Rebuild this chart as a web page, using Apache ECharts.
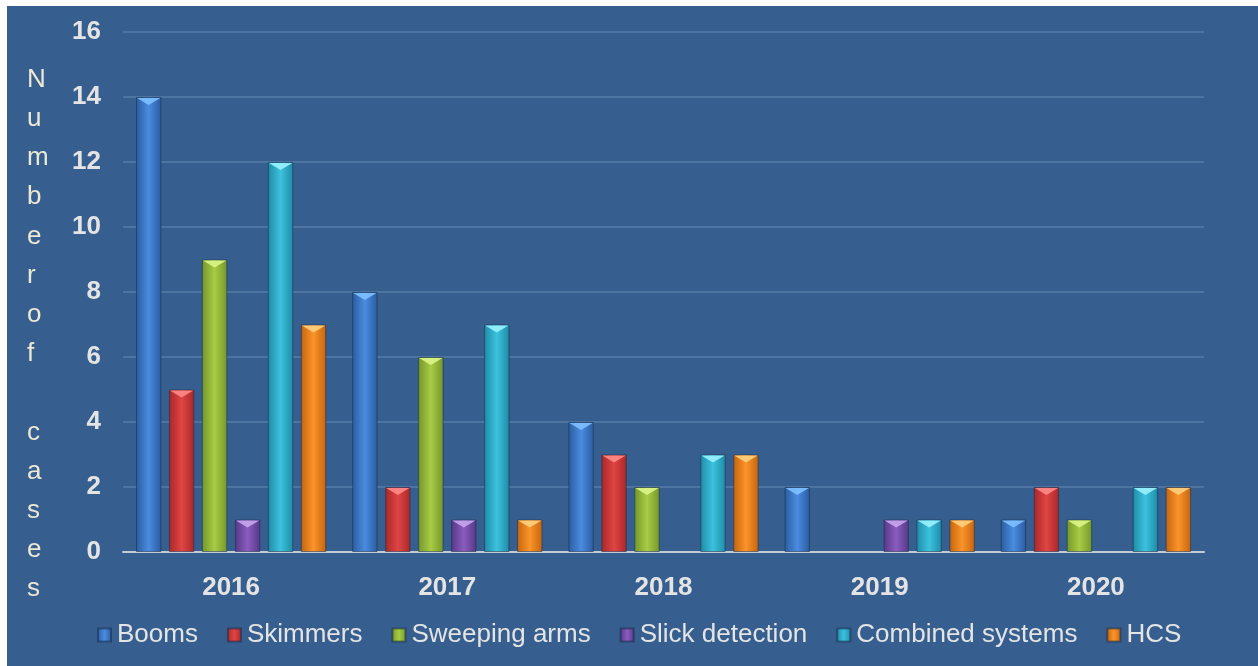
<!DOCTYPE html>
<html><head><meta charset="utf-8">
<script src="https://cdn.jsdelivr.net/npm/echarts@6/dist/echarts.min.js"></script>
<style>html,body{margin:0;padding:0;background:#fff}#c{width:1258px;height:666px}</style>
</head><body><div id="c"></div>
<script>
var years = ['2016','2017','2018','2019','2020'];
var seriesNames = ['Booms','Skimmers','Sweeping arms','Slick detection','Combined systems','HCS'];
var booms = [14, 8, 4, 2, 1];
var skimmers = [5, 2, 3, 0, 2];
var sweeping = [9, 6, 2, 0, 1];
var slick = [1, 1, 0, 1, 0];
var combined = [12, 7, 3, 1, 2];
var hcs = [7, 1, 3, 1, 2];
var yTicks = [0, 2, 4, 6, 8, 10, 12, 14, 16];
var yTitle = 'Numberof cases';

var values = [booms, skimmers, sweeping, slick, combined, hcs];
var palette = [
  ['#2a5c9e','#4a8ce0','#2a5c9e','#7ec0ff'],
  ['#a82828','#e04444','#a82828','#ff8a8a'],
  ['#74962a','#a8cc44','#74962a','#dcf58a'],
  ['#553884','#8a5cc0','#553884','#c6a6f0'],
  ['#1f8aa6','#3cc2de','#1f8aa6','#9af2ff'],
  ['#c46410','#fb9428','#c46410','#ffd080']
];
function grad(p){
  return {type:'linear',x:0,y:0,x2:1,y2:0,colorStops:[
    {offset:0,color:p[0]},{offset:0.5,color:p[1]},{offset:1,color:p[2]}]};
}
var FONT = '"Liberation Sans", Arial, sans-serif';
var N = seriesNames.length, CAT_GAP = 0.12, BAR_GAP = 0.3;
var series = seriesNames.map(function(n,i){
  return {name:n,type:'bar',
    data:values[i].map(function(v){return v===0?'-':v;}),
    barGap:'30%',barCategoryGap:'12%',
    itemStyle:{color:grad(palette[i]),borderColor:'rgba(20,40,70,0.5)',borderWidth:1},z:2};
});
var topData = [];
values.forEach(function(arr,s){arr.forEach(function(v,c){ if(v>0) topData.push([c,v,s]); });});
series.push({
  type:'custom',name:'tops',data:topData,z:5,silent:true,
  encode:{x:0,y:1},
  renderItem:function(params,api){
    var c=api.value(0), v=api.value(1), s=api.value(2);
    var pt=api.coord([c,v]);
    var band=api.size([1,0])[0];
    var usable=band*(1-CAT_GAP);
    var w=usable/(N+(N-1)*BAR_GAP);
    var g=w*BAR_GAP;
    var x0=pt[0]-usable/2+s*(w+g);
    var y=pt[1];
    return {type:'polygon',shape:{points:[[x0+1,y+1],[x0+w-1,y+1],[x0+w/2,y+8]]},
      style:{fill:palette[s][3],opacity:0.9}};
  }
});
var chart = echarts.init(document.getElementById('c'));
chart.setOption({
  backgroundColor:'#fff',
  animation:false,
  graphic:[
    {type:'rect',left:7,top:6,shape:{width:1251,height:660},style:{fill:'#365f8f'},z:-10},
    {type:'text',left:27,top:60,style:{text:'N\nu\nm\nb\ne\nr\no\nf\n\nc\na\ns\ne\ns',
      fill:'#ece8d4',font:'26px '+FONT,lineHeight:39.2,align:'center'},z:10}
  ],
  grid:{left:123,right:54,top:32,bottom:114},
  legend:{bottom:13,left:92,itemWidth:13,itemHeight:13,itemGap:29,
    data:seriesNames,
    textStyle:{color:'#e4e4e4',fontSize:26,fontFamily:FONT,padding:[0,0,0,1]},
    icon:'rect'},
  xAxis:{type:'category',data:years,
    axisLine:{lineStyle:{color:'#c3cbd6',width:2}},axisTick:{show:false},
    axisLabel:{color:'#e4e4e4',fontSize:26,fontWeight:'bold',margin:23,fontFamily:FONT}},
  yAxis:{type:'value',min:yTicks[0],max:yTicks[yTicks.length-1],interval:2,
    axisLine:{show:false},axisTick:{show:false},
    splitLine:{lineStyle:{color:'#4e74a2',width:2}},
    axisLabel:{color:'#e4e4e4',fontSize:26,fontWeight:'bold',margin:22,fontFamily:FONT}},
  series:series
});
</script></body></html>
